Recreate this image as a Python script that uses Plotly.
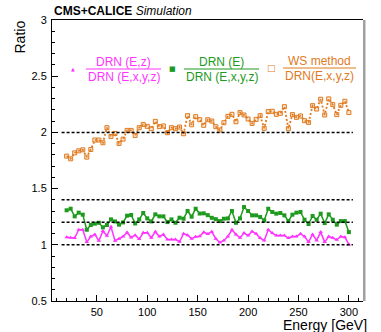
import plotly.graph_objects as go

# beam energies [GeV]
energy = [20, 24, 28, 32, 36, 40, 44, 48, 52, 56, 60, 64, 68, 72, 76, 80, 84, 88,
          92, 96, 100, 104, 108, 112, 116, 120, 124, 128, 132, 136, 140, 144, 148,
          152, 156, 160, 164, 168, 172, 176, 180, 184, 188, 192, 196, 200, 204, 208,
          212, 216, 220, 224, 228, 232, 236, 240, 244, 248, 252, 256, 260, 264, 268,
          272, 276, 280, 284, 288, 292, 296, 300]

# DRN(E,z) / DRN(E,x,y,z)
ratio_ez = [1.068, 1.063, 1.060, 1.134, 1.134, 1.024, 1.074, 1.092, 1.036, 1.122,
            1.080, 1.161, 1.036, 1.054, 1.074, 1.110, 1.065, 1.086, 1.051, 1.107,
            1.107, 1.063, 1.116, 1.074, 1.092, 1.048, 1.048, 1.048, 1.027, 1.098,
            1.086, 1.054, 1.071, 1.075, 1.112, 1.096, 1.115, 1.054, 1.021,
            1.039, 1.074, 1.134, 1.092, 1.063, 1.104, 1.083, 1.119, 1.098, 1.060,
            1.039, 1.134, 1.104, 1.083, 1.083, 1.083, 1.060, 1.074, 1.074, 1.098,
            1.074, 1.024, 1.092, 1.039, 1.113, 1.024, 1.074, 1.063, 1.045, 1.074,
            1.068, 1.003]

# DRN(E) / DRN(E,x,y,z)
ratio_e = [1.307, 1.321, 1.253, 1.286, 1.268, 1.134, 1.176, 1.188, 1.196, 1.155,
           1.176, 1.226, 1.208, 1.179, 1.199, 1.259, 1.265, 1.190, 1.226, 1.283,
           1.235, 1.208, 1.271, 1.253, 1.253, 1.202, 1.226, 1.196, 1.241, 1.232,
           1.301, 1.250, 1.321, 1.278, 1.280, 1.264, 1.240, 1.228, 1.211,
           1.232, 1.235, 1.301, 1.196, 1.235, 1.336, 1.301, 1.262, 1.262, 1.247,
           1.217, 1.321, 1.292, 1.277, 1.283, 1.262, 1.211, 1.268, 1.286, 1.292,
           1.223, 1.185, 1.256, 1.223, 1.277, 1.193, 1.271, 1.223, 1.179, 1.211,
           1.211, 1.113]

# WS method / DRN(E,x,y,z)
ratio_ws = [1.789, 1.765, 1.818, 1.836, 1.845, 1.780, 1.848, 1.932, 1.932, 1.908,
            2.042, 1.964, 1.991, 1.902, 1.940, 2.018, 2.018, 1.973, 2.042, 2.071,
            2.054, 2.033, 2.098, 2.051, 2.057, 1.997, 2.042, 2.033, 2.048, 1.988,
            2.149, 2.068, 2.140, 2.113, 2.063, 2.113, 2.101, 2.051, 2.021,
            2.086, 2.143, 2.161, 2.095, 2.176, 2.155, 2.119, 2.080, 2.116, 2.149,
            2.036, 2.185, 2.188, 2.161, 2.170, 2.229, 2.033, 2.158, 2.134, 2.146,
            2.104, 2.089, 2.238, 2.208, 2.295, 2.155, 2.298, 2.247, 2.158, 2.241,
            2.277, 2.176]

ref_levels = [1.0, 1.2, 1.4, 2.0]

PINK = "#ff33ff"
GREEN = "#1e9a1e"
ORANGE = "#e07a1f"
FONT = "Liberation Sans, Arial, sans-serif"

# plot frame in pixels (used to place the text boxes)
L, R, T, B = 52, 363, 20, 301


def px(x):
    return (x - L) / (R - L)


def py(y):
    return (B - y) / (B - T)


def note(x, y, text, size, color, xanchor="center", yanchor="middle", **kw):
    fig.add_annotation(x=px(x), y=py(y), xref="paper", yref="paper", text=text,
                       xanchor=xanchor, yanchor=yanchor, showarrow=False, borderpad=0,
                       font=dict(size=size, color=color, family=kw.pop("family", FONT)),
                       **kw)


fig = go.Figure()
fig.add_scatter(
    x=energy, y=ratio_ez, mode="lines+markers",
    line=dict(color=PINK, width=1.5),
    marker=dict(symbol="triangle-up", size=4, color=PINK),
)
fig.add_scatter(
    x=energy, y=ratio_e, mode="lines+markers",
    line=dict(color=GREEN, width=1.5),
    marker=dict(symbol="square", size=4, color=GREEN),
)
fig.add_scatter(
    x=energy, y=ratio_ws, mode="lines+markers",
    line=dict(color=ORANGE, width=1.8, dash="2px,2px"),
    marker=dict(symbol="square", size=4, color="rgba(235,150,70,0.25)",
                line=dict(color=ORANGE, width=1)),
)

for lv in ref_levels:
    fig.add_shape(type="line", xref="x", yref="y", x0=15, x1=304, y0=lv, y1=lv,
                  line=dict(color="black", width=1.5, dash="3px,2px"))

# grey right frame edge
fig.add_shape(type="line", xref="paper", yref="paper", x0=1.004, x1=1.004, y0=0, y1=1,
              line=dict(color="#a0a0a0", width=2.5))

# legend built from text pieces
legend = [
    ("▲", 5, PINK, 72.7, 69, "DRN (E,z)", "DRN (E,x,y,z)", 86, 161, 69),
    ("■", 7, GREEN, 172, 69, "DRN (E)", "DRN (E,x,y,z)", 184, 259, 69),
    ("□", 9, ORANGE, 271, 68, "WS method", "DRN(E,x,y,z)", 283, 356, 68),
]
for sym, ssize, col, mx, my, num, den, x0, x1, yl in legend:
    note(mx, my, sym, ssize, col, family="DejaVu Sans")
    xc = (x0 + x1) / 2
    note(xc, yl - 7.5, num, 12, col)
    note(xc, yl + 8, den, 12, col)
    fig.add_shape(type="line", xref="paper", yref="paper", x0=px(x0), x1=px(x1),
                  y0=py(yl), y1=py(yl), line=dict(color=col, width=1))

note(53, 11, "<b>CMS+CALICE</b> <i>Simulation</i>", 12, "black", xanchor="left")
note(19, 20, "Ratio", 14, "black", yanchor="top", textangle=-90)
note(368, 325, "Energy [GeV]", 14, "black", xanchor="right")

fig.update_layout(
    width=381, height=332,
    margin=dict(l=L, r=381 - R, t=T, b=332 - B),
    plot_bgcolor="white", paper_bgcolor="white",
    showlegend=False,
    font=dict(family=FONT, size=11, color="black"),
)
fig.update_xaxes(
    range=[5.5, 314], tickvals=[50, 100, 150, 200, 250, 300],
    ticks="inside", ticklen=6, tickwidth=1, tickcolor="black",
    minor=dict(dtick=10, tick0=0, ticks="inside", ticklen=3, tickcolor="black"),
    showline=True, linecolor="black", linewidth=1, mirror=True,
    showgrid=False, zeroline=False, ticklabelstandoff=1,
)
fig.update_yaxes(
    range=[0.5, 3], dtick=0.5, tick0=0.5,
    ticks="inside", ticklen=6, tickwidth=1, tickcolor="black",
    minor=dict(dtick=0.1, tick0=0.5, ticks="inside", ticklen=3, tickcolor="black"),
    showline=True, linecolor="black", linewidth=1,
    showgrid=False, zeroline=False, ticklabelstandoff=2,
)

fig.write_html("out.html", config={"displayModeBar": False},
               post_script="document.body.style.margin='0';")
